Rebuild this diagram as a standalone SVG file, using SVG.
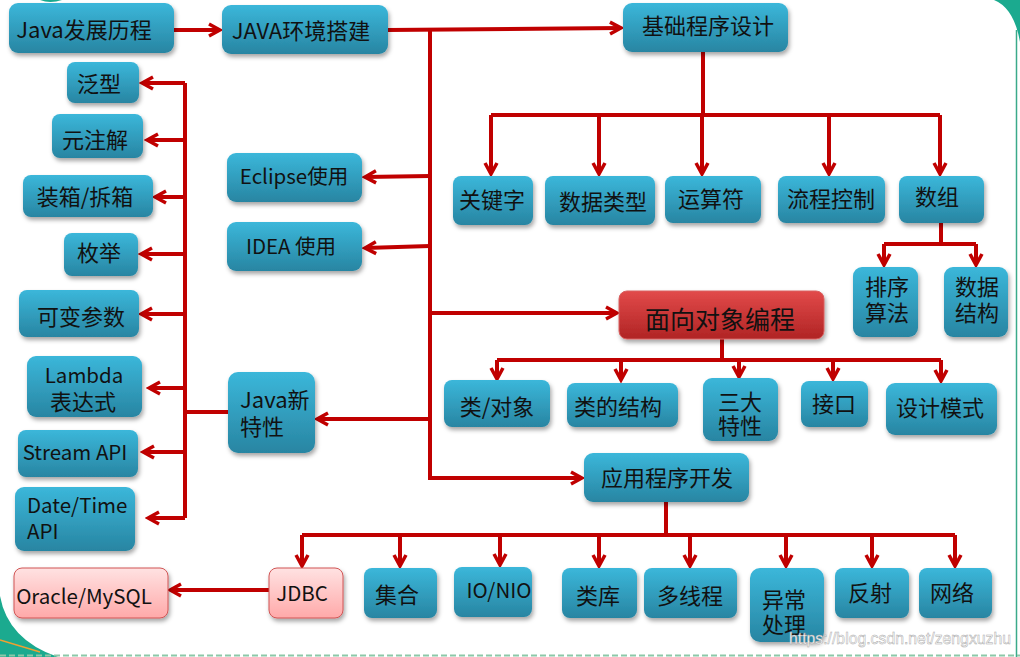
<svg xmlns="http://www.w3.org/2000/svg" width="1020" height="657" viewBox="0 0 1020 657">
<defs>
<style>
.t{font-family:"Noto Sans CJK SC","Liberation Sans",sans-serif;font-size:22px;fill:#111;text-anchor:middle}
.tl{text-anchor:start}
.lat{font-size:20.5px}
.big{font-size:25px}
.b{fill:url(#gBlue);filter:url(#sh)}
.r{fill:url(#gRed);stroke:#D86060;stroke-width:1;filter:url(#sh)}
.p{fill:url(#gPink);stroke:#D05555;stroke-width:1;filter:url(#sh)}
.c{fill:none;stroke:#C00000;stroke-width:4;stroke-linejoin:miter}
.a{marker-end:url(#ar)}
</style>
<linearGradient id="gBlue" x1="0" y1="0" x2="0" y2="1">
<stop offset="0" stop-color="#3BB7DA"/>
<stop offset="1" stop-color="#2885A2"/>
</linearGradient>
<linearGradient id="gRed" x1="0" y1="0" x2="0" y2="1">
<stop offset="0" stop-color="#E24A4A"/>
<stop offset="1" stop-color="#B02424"/>
</linearGradient>
<linearGradient id="gPink" x1="0" y1="0" x2="0" y2="1">
<stop offset="0" stop-color="#FFE2E2"/>
<stop offset="1" stop-color="#FFA9A9"/>
</linearGradient>
<filter id="sh" x="-20%" y="-20%" width="140%" height="150%">
<feDropShadow dx="1.5" dy="3" stdDeviation="2" flood-color="#000" flood-opacity="0.35"/>
</filter>
<marker id="ar" viewBox="0 0 16 16" markerUnits="userSpaceOnUse" markerWidth="16" markerHeight="16" refX="13" refY="8" orient="auto">
<path d="M2,2 L13,8 L2,14" fill="none" stroke="#C00000" stroke-width="3.5"/>
</marker>
</defs>

<rect x="0" y="0" width="1020" height="657" fill="#ffffff"/>
<g id="decor">
<path d="M994,0 Q1014,8 1020,42 L1020,0 Z" fill="#1BAA8F"/>
<path d="M40,0 Q50,4 62,0 Z" fill="#1BAA8F"/>
<line x1="1016.5" y1="30" x2="1016.5" y2="657" stroke="#3BAA8A" stroke-width="1.5"/>
<path d="M0,596 Q8,640 58,657 L0,657 Z" fill="#1BAA8F"/>
<path d="M0,640 Q20,646 40,652" fill="none" stroke="#F0A030" stroke-width="1.5"/>
<line x1="0" y1="655.5" x2="1020" y2="655.5" stroke="#8CC8A8" stroke-width="2" stroke-dasharray="6 3"/>
</g>

<g id="connectors">
<path class="c a" d="M174,30 L220,30"/>
<path class="c a" d="M388,30 L621,28"/>
<path class="c a" d="M430,30 L430,478 L582,478"/>
<path class="c a" d="M430,176 L365,177"/>
<path class="c a" d="M430,246 L365,248"/>
<path class="c a" d="M430,313 L617,313"/>
<path class="c a" d="M430,419 L317,419"/>
<path class="c" d="M703,52 L703,115 M491,115 L940,115"/>
<path class="c a" d="M491,115 L491,174"/>
<path class="c a" d="M599,115 L599,174"/>
<path class="c a" d="M702,115 L702,174"/>
<path class="c a" d="M829,115 L829,174"/>
<path class="c a" d="M940,115 L940,174"/>
<path class="c" d="M941,222 L941,244 M884,244 L976,244"/>
<path class="c a" d="M884,244 L884,265"/>
<path class="c a" d="M976,244 L976,265"/>
<path class="c" d="M722,339 L722,360 M497,360 L941,360"/>
<path class="c a" d="M497,360 L497,379"/>
<path class="c a" d="M621,360 L621,380"/>
<path class="c a" d="M739,360 L739,377"/>
<path class="c a" d="M833,360 L833,379"/>
<path class="c a" d="M941,360 L941,381"/>
<path class="c" d="M666,502 L666,535 M302,535 L955,535"/>
<path class="c a" d="M302,535 L302,566"/>
<path class="c a" d="M400,535 L400,566"/>
<path class="c a" d="M500,535 L500,565"/>
<path class="c a" d="M599,535 L599,566"/>
<path class="c a" d="M690,535 L690,566"/>
<path class="c a" d="M786,535 L786,566"/>
<path class="c a" d="M872,535 L872,566"/>
<path class="c a" d="M955,535 L955,566"/>
<path class="c a" d="M269,590 L170,590"/>
<path class="c" d="M228,412 L185,412 M185,83 L185,518"/>
<path class="c a" d="M185,83 L142,83"/>
<path class="c a" d="M185,140 L147,140"/>
<path class="c a" d="M185,197 L155,197"/>
<path class="c a" d="M185,254 L141,254"/>
<path class="c a" d="M185,314 L141,314"/>
<path class="c a" d="M185,388 L149,388"/>
<path class="c a" d="M185,452 L143,452"/>
<path class="c a" d="M185,518 L148,518"/>
</g>

<g id="n-java-history"><rect class="b" x="9" y="3" width="165" height="50" rx="9"/><text class="t" x="84" y="38">Java发展历程</text></g>
<g id="n-java-env"><rect class="b" x="222" y="5" width="166" height="49" rx="9"/><text class="t" x="301" y="39">JAVA环境搭建</text></g>
<g id="n-basic"><rect class="b" x="623" y="3" width="165" height="49" rx="9"/><text class="t" x="708" y="34">基础程序设计</text></g>

<g id="n-generic"><rect class="b" x="67" y="62" width="72" height="41" rx="8"/><text class="t" x="99" y="92">泛型</text></g>
<g id="n-annotation"><rect class="b" x="52" y="114" width="91" height="44" rx="8"/><text class="t" x="95" y="148">元注解</text></g>
<g id="n-boxing"><rect class="b" x="23" y="175" width="130" height="42" rx="8"/><text class="t" x="85" y="205">装箱/拆箱</text></g>
<g id="n-enum"><rect class="b" x="64" y="233" width="74" height="43" rx="8"/><text class="t" x="99" y="261">枚举</text></g>
<g id="n-varargs"><rect class="b" x="19" y="290" width="120" height="47" rx="8"/><text class="t" x="81" y="325">可变参数</text></g>
<g id="n-lambda"><rect class="b" x="27" y="356" width="115" height="61" rx="9"/><text class="t" x="84" y="383"><tspan class="lat" x="84">Lambda</tspan><tspan x="83" dy="27">表达式</tspan></text></g>
<g id="n-stream"><rect class="b" x="18" y="430" width="120" height="47" rx="8"/><text class="t lat" x="75" y="460">Stream API</text></g>
<g id="n-datetime"><rect class="b" x="15" y="487" width="120" height="64" rx="9"/><text class="t tl lat" x="27" y="513"><tspan x="27">Date/Time</tspan><tspan x="27" dy="26">API</tspan></text></g>
<g id="n-newfeat"><rect class="b" x="228" y="372" width="87" height="81" rx="10"/><text class="t tl" x="240" y="408"><tspan x="240">Java新</tspan><tspan x="240" dy="27">特性</tspan></text></g>

<g id="n-eclipse"><rect class="b" x="227" y="153" width="135" height="49" rx="9"/><text class="t lat" x="294" y="184">Eclipse使用</text></g>
<g id="n-idea"><rect class="b" x="227" y="222" width="135" height="49" rx="9"/><text class="t lat" x="291" y="254">IDEA 使用</text></g>

<g id="n-keyword"><rect class="b" x="453" y="176" width="80" height="49" rx="8"/><text class="t" x="492" y="208">关键字</text></g>
<g id="n-datatype"><rect class="b" x="545" y="176" width="110" height="49" rx="8"/><text class="t" x="603" y="210">数据类型</text></g>
<g id="n-operator"><rect class="b" x="665" y="176" width="96" height="47" rx="8"/><text class="t" x="711" y="207">运算符</text></g>
<g id="n-flow"><rect class="b" x="778" y="176" width="107" height="47" rx="8"/><text class="t" x="831" y="207">流程控制</text></g>
<g id="n-array"><rect class="b" x="899" y="176" width="85" height="47" rx="8"/><text class="t" x="937" y="205">数组</text></g>
<g id="n-sort"><rect class="b" x="853" y="267" width="65" height="70" rx="9"/><text class="t" x="887" y="295"><tspan x="887">排序</tspan><tspan x="887" dy="26">算法</tspan></text></g>
<g id="n-ds"><rect class="b" x="944" y="267" width="64" height="70" rx="9"/><text class="t" x="977" y="295"><tspan x="977">数据</tspan><tspan x="977" dy="26">结构</tspan></text></g>

<g id="n-oop"><rect class="r" x="619" y="291" width="205" height="48" rx="8"/><text class="t big" x="720" y="329">面向对象编程</text></g>
<g id="n-class"><rect class="b" x="444" y="380" width="106" height="47" rx="8"/><text class="t" x="497" y="415">类/对象</text></g>
<g id="n-classstruct"><rect class="b" x="567" y="383" width="111" height="44" rx="8"/><text class="t" x="618" y="415">类的结构</text></g>
<g id="n-three"><rect class="b" x="703" y="378" width="75" height="63" rx="9"/><text class="t" x="740" y="410"><tspan x="740">三大</tspan><tspan x="740" dy="24">特性</tspan></text></g>
<g id="n-interface"><rect class="b" x="801" y="381" width="67" height="46" rx="8"/><text class="t" x="834" y="412">接口</text></g>
<g id="n-pattern"><rect class="b" x="886" y="383" width="111" height="52" rx="9"/><text class="t" x="940" y="416">设计模式</text></g>

<g id="n-app"><rect class="b" x="584" y="453" width="165" height="49" rx="9"/><text class="t" x="667" y="486">应用程序开发</text></g>
<g id="n-oracle"><rect class="p" x="14" y="568" width="154" height="50" rx="8"/><text class="t lat" x="84" y="604">Oracle/MySQL</text></g>
<g id="n-jdbc"><rect class="p" x="269" y="568" width="74" height="50" rx="8"/><text class="t lat" x="302" y="601">JDBC</text></g>
<g id="n-collection"><rect class="b" x="364" y="568" width="73" height="50" rx="8"/><text class="t" x="397" y="603">集合</text></g>
<g id="n-io"><rect class="b" x="454" y="567" width="78" height="50" rx="8"/><text class="t lat" x="499" y="598">IO/NIO</text></g>
<g id="n-lib"><rect class="b" x="562" y="568" width="75" height="50" rx="8"/><text class="t" x="598" y="604">类库</text></g>
<g id="n-thread"><rect class="b" x="644" y="568" width="93" height="50" rx="8"/><text class="t" x="690" y="604">多线程</text></g>
<g id="n-exception"><rect class="b" x="750" y="568" width="74" height="74" rx="10"/><text class="t" x="784" y="608"><tspan x="784">异常</tspan><tspan x="784" dy="25">处理</tspan></text></g>
<g id="n-reflect"><rect class="b" x="835" y="568" width="74" height="50" rx="8"/><text class="t" x="870" y="601">反射</text></g>
<g id="n-network"><rect class="b" x="919" y="568" width="73" height="50" rx="8"/><text class="t" x="952" y="601">网络</text></g>

<text x="789" y="644" font-family="Liberation Sans, sans-serif" font-size="17" textLength="222" lengthAdjust="spacingAndGlyphs" fill="#ffffff" stroke="#a8a8a8" stroke-width="0.5">https://blog.csdn.net/zengxuzhu</text>
</svg>
